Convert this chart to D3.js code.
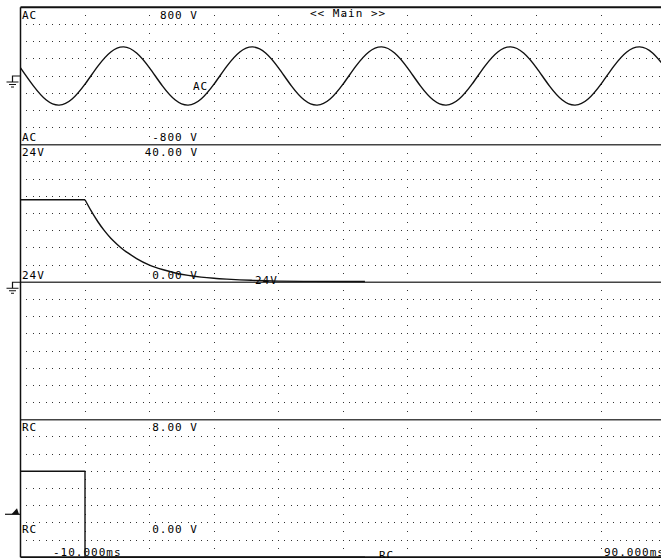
<!DOCTYPE html>
<html><head><meta charset="utf-8">
<script src="https://cdn.jsdelivr.net/npm/d3@7"></script>
<style>
html,body{margin:0;padding:0;background:#fff;}
svg{display:block;}
text{font-family:"DejaVu Sans Mono","Liberation Mono",monospace;font-size:11px;letter-spacing:1px;fill:#000;}
</style></head><body>
<svg id="scope" width="661" height="558"></svg>
<script>
// ---- time axis (ms) ----
const timeDomain = [-10, 90];
const timeDivs = [0, 10, 20, 30, 40, 50, 60, 70, 80, 90];
const timeStartLabel = "-10.000ms";
const timeEndLabel = "90.000ms";
const screenTitle = "<< Main >>";

// ---- channels (one panel each) ----
const channelNames = ["AC", "24V", "", "RC"];
const channelRanges = [[-800, 800], [0, 40], [0, 1], [0, 8]];
const rangeTopLabels = ["800 V", "40.00 V", "", "8.00 V"];
const rangeBottomLabels = ["-800 V", "0.00 V", "", "0.00 V"];

// ---- AC mains trace ----
const acTimes = [-10,-8,-6,-4,-2,0,2,4,6,8,10,12,14,16,18,20,22,24,26,28,30,32,34,36,38,40,
                 42,44,46,48,50,52,54,56,58,60,62,64,66,68,70,72,74,76,78,80,82,84,86,88,90];
const acVolts = [95,-115,-280,-339,-268,-95,115,280,339,268,
                 95,-115,-280,-339,-268,-95,115,280,339,268,
                 95,-115,-280,-339,-268,-95,115,280,339,268,
                 95,-115,-280,-339,-268,-95,115,280,339,268,
                 95,-115,-280,-339,-268,-95,115,280,339,268,95];

// ---- 24 V supply trace ----
const dcTimes = [-10,0,1,2,3,4,5,6,7,8,10,12,14,16,18,20,22,24,26,28,30,35,43.4];
const dcVolts = [24,24,20.6,17.6,15.0,12.8,11.0,9.4,8.1,6.9,5.0,3.7,2.7,2.0,1.5,1.15,0.9,0.7,0.55,0.42,0.33,0.25,0.2];

// ---- RC signal trace ----
const rcTimes = [-10, 0, 0, 43.4];
const rcVolts = [5, 5, 0, 0];

// ---- geometry ----
const W = 661, H = 558;
const plotLeft = 20.5, plotTop = 7.25, panelH = 137.5, divs = 8;
const divH = panelH / divs;
const panelTop = i => plotTop + i * panelH;

const svg = d3.select("#scope");
svg.append("rect").attr("width", W).attr("height", H).attr("fill", "#fff");

const x = d3.scaleLinear().domain(timeDomain).range([plotLeft, plotLeft + 645]);
const yScales = channelRanges.map((r, i) =>
  d3.scaleLinear().domain(r).range([panelTop(i + 1), panelTop(i)]));

// ---- dotted graticule ----
const dots = [];
const msSteps = d3.range(timeDomain[0] + 1, timeDomain[1]);
channelNames.forEach((_, i) => {
  for (let k = 1; k < divs; k++) {
    const yy = panelTop(i) + k * divH;
    msSteps.forEach(t => dots.push([x(t), yy]));
  }
  for (let k = 0; k < divs; k++) {
    const yy = panelTop(i) + (k + 0.5) * divH;
    timeDivs.forEach(t => dots.push([x(t), yy]));
  }
});
svg.append("g").attr("fill", "#333").attr("shape-rendering", "crispEdges")
  .selectAll("rect").data(dots.filter(d => d[0] < W)).join("rect")
  .attr("x", d => Math.round(d[0] - 0.5)).attr("y", d => Math.round(d[1] - 0.5))
  .attr("width", 1).attr("height", 1);

// ---- frame and panel separators ----
const frame = svg.append("g").attr("fill", "none");
const nPanels = channelNames.length;
for (let i = 0; i <= nPanels; i++) {
  const edge = i === 0 || i === nPanels;
  frame.append("line").attr("x1", plotLeft).attr("x2", W)
    .attr("y1", panelTop(i)).attr("y2", panelTop(i))
    .attr("stroke-width", edge ? 1.8 : 1.6)
    .attr("stroke", edge ? "#111" : "#444");
}
frame.append("line").attr("x1", plotLeft).attr("x2", plotLeft)
  .attr("y1", panelTop(0)).attr("y2", panelTop(nPanels))
  .attr("stroke-width", 1.5).attr("stroke", "#111");

// ---- panel labels ----
const labels = svg.append("g");
channelNames.forEach((name, i) => {
  if (!name) return;
  const tY = panelTop(i) + 11.5;
  const bY = i === nPanels - 1 ? panelTop(i + 1) - 24 : panelTop(i + 1) - 3.5;
  labels.append("text").attr("x", 22).attr("y", tY).text(name);
  labels.append("text").attr("x", 198).attr("y", tY).attr("text-anchor", "end").text(rangeTopLabels[i]);
  labels.append("text").attr("x", 22).attr("y", bY).text(name);
  labels.append("text").attr("x", 198).attr("y", bY).attr("text-anchor", "end").text(rangeBottomLabels[i]);
});
labels.append("text").attr("x", 310).attr("y", 17).text(screenTitle);
labels.append("text").attr("x", 53).attr("y", 556).text(timeStartLabel);
labels.append("text").attr("x", 604).attr("y", 556).text(timeEndLabel);

// ---- traces ----
const traces = svg.append("g").attr("fill", "none").attr("stroke", "#111")
  .attr("stroke-width", 1.4).attr("stroke-linejoin", "round");

const acPts = acTimes.map((t, j) => [x(t), yScales[0](acVolts[j])]);
traces.append("path").attr("d", d3.line().curve(d3.curveNatural)(acPts));

const dcPts = dcTimes.map((t, j) => [x(t), yScales[1](dcVolts[j])]);
traces.append("path").attr("d", d3.line()(dcPts.slice(0, 2)));
traces.append("path").attr("d", d3.line().curve(d3.curveMonotoneX)(dcPts.slice(1)));

const rcPts = rcTimes.map((t, j) => [x(t), yScales[3](rcVolts[j])]);
traces.append("path").attr("d", d3.line()(rcPts));

// trace name tags
labels.append("text").attr("x", 193).attr("y", 90).text("AC");
labels.append("text").attr("x", 255).attr("y", 284).text("24V");
labels.append("text").attr("x", 379).attr("y", 559).text("RC");

// ---- ground markers at channel zero levels ----
const marks = svg.append("g").attr("stroke", "#111").attr("stroke-width", 1.2).attr("fill", "none");
function ground(y0) {
  marks.append("path").attr("d",
    `M${plotLeft},${y0}H12.5V${y0 + 6}M6.5,${y0 + 6}H18.5M9,${y0 + 8.5}H16M11,${y0 + 11}H14`);
}
ground(yScales[0](0));
ground(yScales[1](0));

// trigger level marker on the RC channel
const trigY = yScales[3](2.5);
marks.append("path").attr("d", `M5,${trigY}H${plotLeft}`);
svg.append("path").attr("fill", "#111")
  .attr("d", `M11.5,${trigY}L19,${trigY}L17,${trigY - 6}Z`);
</script>
</body></html>
